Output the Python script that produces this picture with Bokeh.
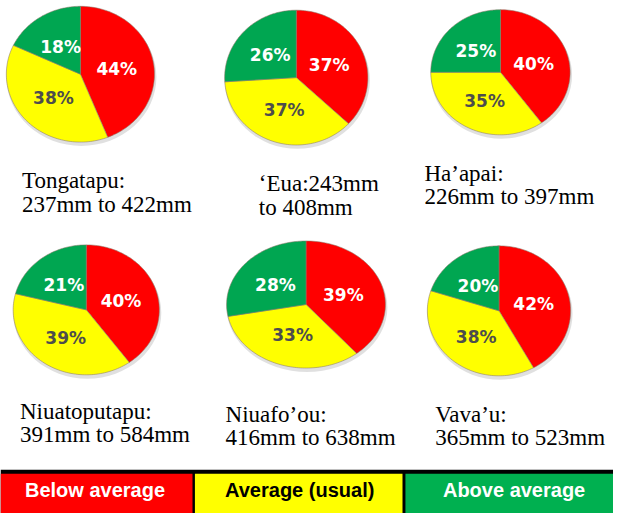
import numpy as np
from bokeh.plotting import figure
from bokeh.models import Range1d
from bokeh.embed import file_html
from bokeh.resources import INLINE
from bokeh.core.properties import value

# ---------------- data ----------------
regions = ["Tongatapu", "‘Eua", "Ha’apai", "Niuatoputapu", "Niuafo’ou", "Vava’u"]
below_pct = [44, 37, 40, 40, 39, 42]
average_pct = [38, 37, 35, 39, 33, 38]
above_pct = [18, 26, 25, 21, 28, 20]
caption_line1 = ["Tongatapu:", "‘Eua:243mm", "Ha’apai:", "Niuatoputapu:", "Niuafo’ou:", "Vava’u:"]
caption_line2 = ["237mm to 422mm", "to 408mm", "226mm to 397mm", "391mm to 584mm", "416mm to 638mm", "365mm to 523mm"]
categories = ["Below average", "Average (usual)", "Above average"]

# ---------------- styles / layout ----------------
pie_colors = ["#FF0000", "#FFFF00", "#00A651"]
pct_text_colors = ["#FFFFFF", "#4D4D4D", "#FFFFFF"]
legend_colors = ["#FF0000", "#FFFF00", "#00B050"]
legend_text_colors = ["#FFFFFF", "#000000", "#FFFFFF"]

# pie centre x, centre y, radius x, radius y (reference pixels)
pie_cx = [82, 303.5, 513, 88, 313.5, 511.5]
pie_cy = [76, 79.5, 74, 319, 313.5, 320]
pie_rx = [76, 73.5, 71.5, 75, 81.5, 73.5]
pie_ry = [70, 69.5, 64.5, 67, 65.5, 67]
# captions: left x, baseline of line 1, baseline of line 2
cap_x = [22, 265, 435, 20, 231, 446]
cap_y1 = [186, 189, 178, 424, 427, 427]
cap_y2 = [210, 213, 202, 448, 451, 451]
# legend boxes
leg_left = [0, 199.5, 415.5]
leg_right = [197, 412.5, 629]
leg_text_x = [97, 307, 527]

W, H = 613, 513
p = figure(width=W, height=H, x_range=Range1d(0, 629), y_range=Range1d(529, 0),
           output_backend="svg", toolbar_location=None, min_border=0)
p.axis.visible = False
p.grid.visible = False
p.outline_line_color = None
p.background_fill_color = "white"

# soft shadows under the pies
p.ellipse(x=[c + 1 for c in pie_cx], y=[c + 3 for c in pie_cy],
          width=[2 * r + 2 for r in pie_rx], height=[2 * r + 2 for r in pie_ry],
          fill_color="#000000", fill_alpha=0.12, line_color=None)

xs, ys, cols = [], [], []
lx, ly, ltxt, lcol = [], [], [], []
for i in range(len(regions)):
    vals = [below_pct[i], average_pct[i], above_pct[i]]
    tot = float(sum(vals))
    start = 0.0
    for j, v in enumerate(vals):
        frac = v / tot
        th = np.linspace(start, start + frac, 80) * 2 * np.pi
        px = np.concatenate([[pie_cx[i]], pie_cx[i] + pie_rx[i] * np.sin(th)])
        py = np.concatenate([[pie_cy[i]], pie_cy[i] - pie_ry[i] * np.cos(th)])
        xs.append(list(px)); ys.append(list(py)); cols.append(pie_colors[j])
        mid = (start + frac / 2) * 2 * np.pi
        lx.append(pie_cx[i] + 0.5 * pie_rx[i] * np.sin(mid))
        ly.append(pie_cy[i] - 0.5 * pie_ry[i] * np.cos(mid) + 1)
        ltxt.append(f"{v}%"); lcol.append(pct_text_colors[j])
        start += frac

p.patches(xs=xs, ys=ys, fill_color=cols, line_color="#8c7a6a", line_width=0.8, line_alpha=0.7)

p.text(x=lx, y=ly, text=ltxt, text_color=lcol, text_font=value("DejaVu Sans"),
       text_font_style="bold", text_font_size="17px", text_align="center", text_baseline="middle")

p.text(x=cap_x, y=cap_y1, text=caption_line1, text_color="#000000",
       text_font=value("Liberation Serif"), text_font_size="23px",
       text_align="left", text_baseline="alphabetic")
p.text(x=cap_x, y=cap_y2, text=caption_line2, text_color="#000000",
       text_font=value("Liberation Serif"), text_font_size="23px",
       text_align="left", text_baseline="alphabetic")

# legend bar
p.quad(left=[0], right=[629], top=[484], bottom=[529], fill_color="#000000", line_color=None)
p.quad(left=leg_left, right=leg_right, top=[488] * 3, bottom=[529] * 3,
       fill_color=legend_colors, line_color=None)
p.text(x=leg_text_x, y=[505] * 3,
       text=categories, text_color=legend_text_colors, text_font=value("Liberation Sans"),
       text_font_style="bold", text_font_size="20px", text_align="center", text_baseline="middle")

open("out.html", "w").write(file_html(p, INLINE))
